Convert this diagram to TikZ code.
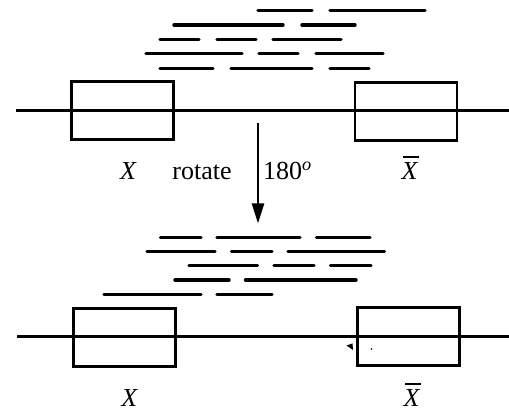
\documentclass[tikz,border=0pt]{standalone}
\usepackage{fontspec}
\setmainfont{Liberation Serif}
\usetikzlibrary{arrows.meta}
\tikzset{
  geneblock/.style={draw, line width=2.6pt, minimum width=102pt, minimum height=58pt, inner sep=0pt},
  chrom/.style={line width=2.4pt},
  dashseg/.style={line width=3.4pt, line cap=round},
  lbl/.style={font=\fontsize{26}{30}\selectfont, inner sep=0pt, anchor=base},
  rotarrow/.style={line width=2.4pt, -{Triangle[length=20pt,width=12pt]}},
  barline/.style={line width=2pt},
}
\begin{document}
\begin{tikzpicture}[x=1pt,y=-1pt]
\useasboundingbox (0,0) rectangle (509,411);
% ---------- top ----------
\coordinate (tl) at (16,110.7);
\coordinate (tr) at (509,110.7);
\draw[chrom] (tl) -- (tr);
\node[geneblock] (boxA) at (122.7,110.5) {};
\node[geneblock] (boxB) at (406,111.3) {};
% dashes top
\foreach \y/\segs in {
  10.7/{258/312,330/425},
  25/{174/283,302/355},
  39.3/{160/199,217/256,273/341},
  53.3/{146/242,259/298,316/383},
  68.3/{160/213,231/312,330/369}}{
  \foreach \a/\b in \segs {\draw[dashseg] (\a,\y) -- (\b,\y);}
}
\node[lbl] (xA) at (128,180) {\itshape X};
\node[lbl] (rot) at (202,180) {rotate};
\node[lbl, anchor=base west] (deg) at (263,180) {180\textsuperscript{\itshape o}};
\node[lbl] (xB) at (409.5,179.5) {\itshape X};
\draw[barline] ([xshift=1.5pt,yshift=5pt]xB.north west) -- ([xshift=1.5pt,yshift=5pt]xB.north east);
% arrow
\coordinate (arS) at (258,123);
\coordinate (arE) at (258,223.5);
\draw[rotarrow] (arS) -- (arE);
% ---------- bottom ----------
\coordinate (bl) at (17,336.7);
\coordinate (br) at (509,336.7);
\draw[chrom] (bl) -- (br);
\node[geneblock] (boxC) at (124.5,337.5) {};
\node[geneblock] (boxD) at (408.3,336.3) {};
\foreach \y/\segs in {
  237.3/{160.5/201,217/300,316.5/370},
  251.7/{147/215,231.5/272,288/384.5},
  265.7/{189/257.5,274/314,330.5/371},
  280/{175/229,245.5/356},
  294.3/{104/201,217/272}}{
  \foreach \a/\b in \segs {\draw[dashseg] (\a,\y) -- (\b,\y);}
}
\node[lbl] (xC) at (129.3,406.5) {\itshape X};
\node[lbl] (xD) at (411.5,406.5) {\itshape X};
\draw[barline] ([xshift=1.5pt,yshift=5pt]xD.north west) -- ([xshift=1.5pt,yshift=5pt]xD.north east);
% scan marks
\fill (346.5,345.5) -- (352.5,343.5) -- (353,350) -- cycle;
\fill (371.5,349) circle (0.9pt);
\end{tikzpicture}
\end{document}
